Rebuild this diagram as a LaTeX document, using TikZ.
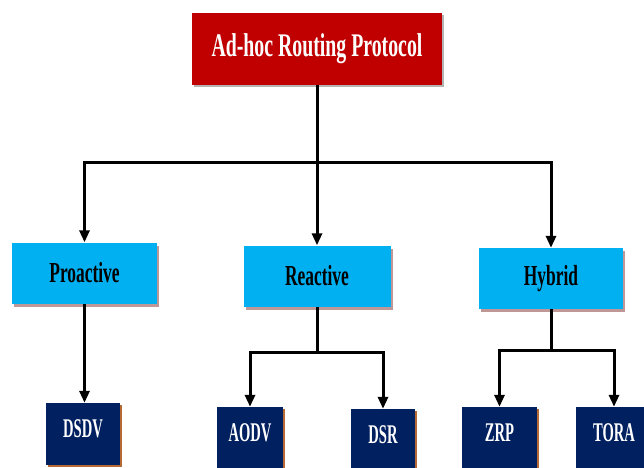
\documentclass[tikz,border=0pt]{standalone}
\usepackage{fontspec}
\newfontfamily\cf[FakeStretch=0.6]{Liberation Serif}
\newfontfamily\cfn[FakeStretch=0.54]{Liberation Serif}
\usetikzlibrary{arrows.meta,shadows}
\definecolor{topred}{HTML}{C00000}
\definecolor{midcyan}{HTML}{00B0F0}
\definecolor{botnavy}{HTML}{002060}
\definecolor{shpink}{HTML}{B88C8C}
\definecolor{shbrown}{HTML}{B05A20}
\begin{document}
\begin{tikzpicture}[x=1pt,y=-1pt,
  topbox/.style={rectangle,fill=topred,text=white,font=\cf\bfseries\fontsize{33}{33}\selectfont,
    minimum width=250pt,minimum height=72pt,inner sep=0pt,
    drop shadow={shadow xshift=2pt,shadow yshift=-2pt,fill=gray,opacity=0.6}},
  midbox/.style={rectangle,fill=midcyan,text=black,font=\cf\bfseries\fontsize{29}{29}\selectfont,
    minimum height=61pt,inner sep=0pt,
    drop shadow={shadow xshift=2pt,shadow yshift=-3pt,fill=shpink,opacity=0.9}},
  botbox/.style={rectangle,fill=botnavy,text=white,font=\cfn\bfseries\fontsize{27}{27}\selectfont,
    minimum height=62pt,inner sep=0pt,text height=20pt,text depth=14pt,
    drop shadow={shadow xshift=1.5pt,shadow yshift=-2pt,fill=shbrown,opacity=0.9}},
  link/.style={line width=3pt,black},
  arr/.style={line width=3pt,black,-{Triangle[width=10pt,length=12pt]}}]
\useasboundingbox (0,0) rectangle (644,467);
\clip (0,0) rectangle (644,467);
\node[topbox] (top) at (317,49) {Ad-hoc Routing Protocol};
\node[midbox,minimum width=145pt] (pro) at (84.5,273) {Proactive};
\node[midbox,minimum width=147pt] (rea) at (317,276) {Reactive};
\node[midbox,minimum width=144pt] (hyb) at (551,278.5) {Hybrid};
\node[botbox,minimum width=74pt] (dsdv) at (83,434) {DSDV};
\node[botbox,minimum width=66pt] (aodv) at (250,438) {AODV};
\node[botbox,minimum width=64pt] (dsr) at (383,440) {DSR};
\node[botbox,minimum width=75pt] (zrp) at (499.5,438) {ZRP};
\node[botbox,minimum width=76pt] (tora) at (614,438) {TORA};
\coordinate (j1) at (317,162);
\coordinate (j2) at (317,352);
\coordinate (j3) at (551,350);
\draw[link] (top) -- (j1);
\draw[arr] (j1) -| (pro);
\draw[arr] (j1) -- (rea);
\draw[arr] (j1) -| (hyb);
\draw[arr] (pro.south) -- (pro.south |- dsdv.north);
\draw[link] (rea) -- (j2);
\draw[arr] (j2) -| (aodv);
\draw[arr] (j2) -| (dsr);
\draw[link] (hyb) -- (j3);
\draw[arr] (j3) -| (zrp);
\draw[arr] (j3) -| (tora);
\end{tikzpicture}
\end{document}
